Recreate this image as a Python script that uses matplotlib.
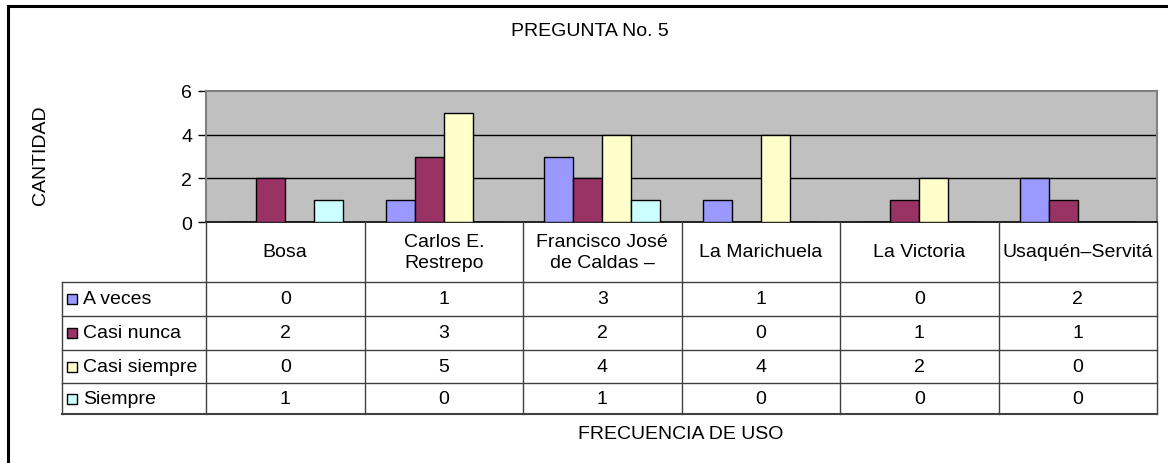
import matplotlib
matplotlib.use("Agg")
import matplotlib.pyplot as plt
from matplotlib.transforms import blended_transform_factory
from matplotlib.patches import Rectangle
import numpy as np

plt.rcParams['font.family'] = ['Liberation Sans', 'DejaVu Sans']

categories = ["Bosa", "Carlos E.\nRestrepo", "Francisco José\nde Caldas –",
              "La Marichuela", "La Victoria", "Usaquén–Servitá"]
series_names = ["A veces", "Casi nunca", "Casi siempre", "Siempre"]
a_veces = [0, 1, 3, 1, 0, 2]
casi_nunca = [2, 3, 2, 0, 1, 1]
casi_siempre = [0, 5, 4, 4, 2, 0]
siempre = [1, 0, 1, 0, 0, 0]
series_values = [a_veces, casi_nunca, casi_siempre, siempre]
colors = ["#9999FF", "#993366", "#FFFFCC", "#CCFFFF"]
yticks = [0, 2, 4, 6]

FS = 14
W, H = 1168, 464
fig = plt.figure(figsize=(W / 100, H / 100), dpi=100)

def fx(px):
    return px / W

def fy(py):
    return 1 - py / H

# outer frame (extends past right/bottom)
fig.patches.append(Rectangle((fx(8), fy(1000)), fx(1300), fy(7) - fy(1000),
                             transform=fig.transFigure, fill=False,
                             edgecolor="black", lw=2.2, zorder=0))

ax_l, ax_r, ax_t, ax_b = 206, 1157, 92, 223
ax = fig.add_axes([fx(ax_l), fy(ax_b), fx(ax_r - ax_l), fy(ax_t) - fy(ax_b)])
ax.set_facecolor("#C0C0C0")

n = len(categories)
x = np.arange(n)
bw = 0.183
for i, (vals, col) in enumerate(zip(series_values, colors)):
    ax.bar(x + (i - 1.5) * bw, vals, width=bw, color=col,
           edgecolor="black", linewidth=1.0, zorder=3)

ax.set_xlim(-0.5, n - 0.5)
ax.set_ylim(0, 6)
ax.set_yticks(yticks)
ax.set_yticklabels([str(t) for t in yticks], fontsize=FS)
ax.tick_params(axis="y", length=6, width=1, color="black", pad=4)
ax.set_xticks([])
for yv in yticks[1:-1]:
    ax.axhline(yv, color="black", lw=1, zorder=1)
for s in ["left", "top", "right"]:
    ax.spines[s].set_color("#808080")
    ax.spines[s].set_linewidth(1.5)
ax.spines["bottom"].set_color("black")
ax.spines["bottom"].set_linewidth(1.2)

# title and axis labels
fig.text(fx(590), fy(31), "PREGUNTA No. 5", ha="center", va="center", fontsize=FS)
fig.text(fx(40), fy(155), "CANTIDAD", ha="center", va="center",
         rotation=90, fontsize=FS)
fig.text(fx(681), fy(435), "FRECUENCIA DE USO", ha="center", va="center",
         fontsize=FS)

# data table
tr = blended_transform_factory(ax.transData, fig.transFigure)
lc = "#404040"
head_top, head_bot = 223, 283
row_edges = [283, 317, 351, 384, 415]
leg_l = 62

for k in range(n + 1):
    xv = k - 0.5
    fig.add_artist(plt.Line2D([xv, xv], [fy(head_top), fy(row_edges[-1])],
                              transform=tr, color=lc, lw=1))
for j, yv in enumerate(row_edges):
    fig.add_artist(plt.Line2D([fx(leg_l), fx(ax_r)], [fy(yv), fy(yv)],
                              transform=fig.transFigure, color=lc,
                              lw=1.5 if j == len(row_edges) - 1 else 1))
fig.add_artist(plt.Line2D([fx(leg_l), fx(leg_l)],
                          [fy(row_edges[0]), fy(row_edges[-1])],
                          transform=fig.transFigure, color=lc, lw=1))

for k, cat in enumerate(categories):
    fig.text(k, fy((head_top + head_bot) / 2), cat, transform=tr,
             ha="center", va="center", fontsize=FS, linespacing=1.3)

for j, (name, vals, col) in enumerate(zip(series_names, series_values, colors)):
    yc = (row_edges[j] + row_edges[j + 1]) / 2
    fig.patches.append(Rectangle((fx(67), fy(yc + 5)), fx(10), fy(yc - 5) - fy(yc + 5),
                                 transform=fig.transFigure, facecolor=col,
                                 edgecolor="black", lw=1))
    fig.text(fx(83), fy(yc), name, ha="left", va="center", fontsize=FS)
    for k, v in enumerate(vals):
        fig.text(k, fy(yc), str(v), transform=tr, ha="center", va="center",
                 fontsize=FS)

fig.savefig("out.png", dpi=100)
